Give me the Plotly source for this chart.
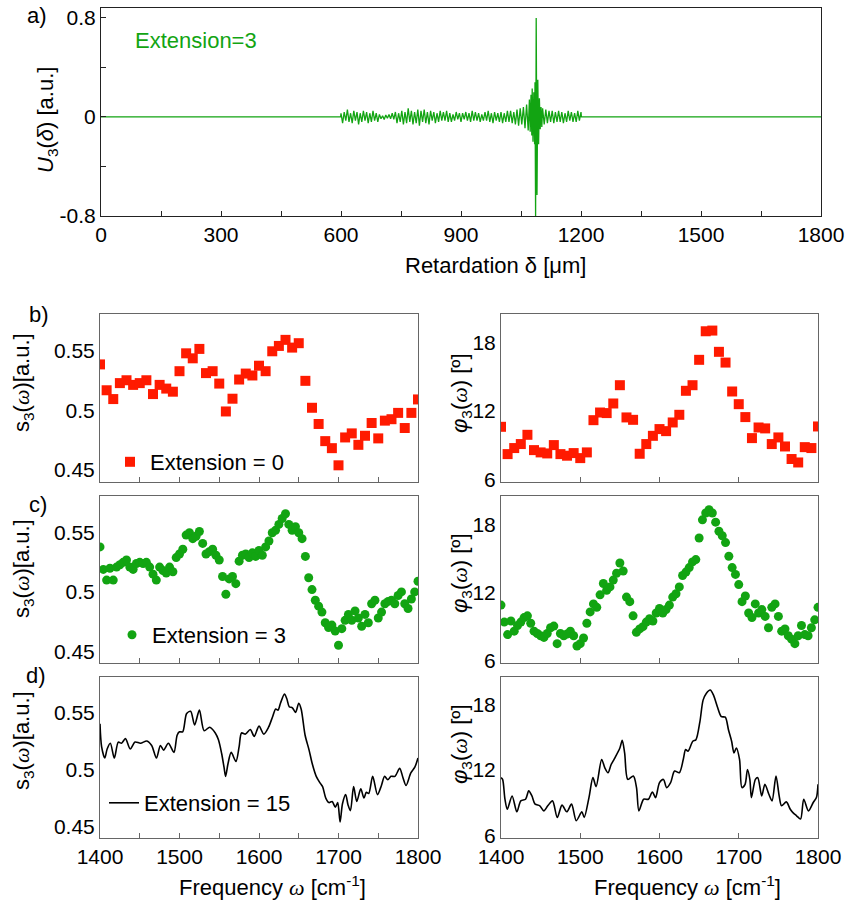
import numpy as np
import plotly.graph_objects as go

W, H = 852, 906
FONT = "Arial, Liberation Sans, sans-serif"
SERIF = "Liberation Serif"
GREEN = "#12a412"
RED = "#ff1a00"

# ---------------- a) interferogram U3(delta), extension = 3 ----------------
# sampled retardation grid of the recorded window (um)
ret_lo = np.arange(600, 1069, 4)
u3_lo = [
    0.03, -0.05, 0.04, -0.03, 0.06, -0.04, 0.03, -0.05, 0.05, -0.03,
    0.04, -0.06, 0.03, -0.04, 0.05, -0.03, 0.04, -0.05, 0.03, -0.04,
    0.05, -0.03, 0.03, -0.04, 0.02, -0.015, 0.01, -0.02, 0.015, -0.01,
    0.02, -0.015, 0.03, -0.02, 0.04, -0.05, 0.03, -0.04, 0.05, -0.06,
    0.04, -0.05, 0.07, -0.04, 0.05, -0.06, 0.04, -0.05, 0.06, -0.07,
    0.05, -0.04, 0.06, -0.05, 0.04, -0.06, 0.05, -0.03, 0.04, -0.05,
    0.03, -0.04, 0.05, -0.03, 0.04, -0.03, 0.05, -0.04, 0.03, -0.04,
    0.02, -0.03, 0.04, -0.02, 0.03, -0.04, 0.03, -0.02, 0.04, -0.03,
    0.03, -0.04, 0.05, -0.03, 0.04, -0.03, 0.03, -0.04, 0.02, -0.03,
    0.04, -0.03, 0.05, -0.04, 0.03, -0.05, 0.04, -0.03, 0.03, -0.04,
    0.04, -0.05, 0.03, -0.04, 0.05, -0.04, 0.05, -0.05, 0.04, -0.06,
    0.06, -0.07, 0.07, -0.06, 0.08, -0.09, 0.10, -0.11,
]
ret_burst = [1071, 1073, 1075, 1077, 1078, 1080, 1082, 1084, 1085, 1086.5,
             1088, 1090, 1092, 1094, 1096, 1098, 1100, 1102]
u3_burst = [0.14, -0.12, 0.18, -0.15, 0.23, -0.20, 0.20, -0.22, 0.28, -0.80,
            0.80, -0.63, 0.30, -0.22, 0.15, -0.10, 0.08, -0.08]
ret_hi = np.arange(1104, 1201, 4)
u3_hi = [
    0.07, -0.06, 0.06, -0.05, 0.05, -0.04, 0.05, -0.05, 0.04, -0.04,
    0.05, -0.04, 0.04, -0.05, 0.03, -0.04, 0.05, -0.03, 0.04, -0.04,
    0.03, -0.04, 0.05, -0.03, 0.04,
]
ret_um = np.concatenate([[0, 599], ret_lo, ret_burst, ret_hi, [1201, 1800]])
u3 = np.concatenate([[0, 0], u3_lo, u3_burst, u3_hi, [0, 0]])

# ---------------- b) extension = 0 ----------------
freq_e0 = np.linspace(1400, 1800, 49)
amp_e0 = [
    0.5387, 0.517, 0.5096, 0.523, 0.5254, 0.5215, 0.523, 0.5254, 0.5138, 0.5215,
    0.5184, 0.5158, 0.533, 0.548, 0.5438, 0.5517, 0.5314, 0.533, 0.5226, 0.4992,
    0.5099, 0.526, 0.531, 0.5294, 0.5376, 0.533, 0.5497, 0.5542, 0.5593, 0.5528,
    0.5565, 0.5249, 0.5023, 0.4887, 0.4743, 0.4684, 0.454, 0.4774, 0.4808, 0.4712,
    0.4788, 0.4895, 0.4766, 0.4915, 0.4927, 0.498, 0.4853, 0.498, 0.5093,
]
phase_e0 = [
    10.63, 8.24, 8.77, 9.12, 9.93, 8.59, 8.39, 8.30, 9.03, 8.24,
    8.10, 8.33, 7.89, 8.39, 11.21, 11.88, 11.83, 12.67, 14.27, 11.45,
    11.24, 8.27, 9.12, 9.84, 10.43, 10.25, 11.01, 11.68, 13.78, 14.27,
    16.49, 18.99, 19.05, 17.19, 16.25, 13.72, 12.61, 11.48, 9.64, 10.57,
    10.49, 9.12, 9.70, 8.91, 7.81, 7.51, 8.85, 8.77, 10.66,
]

# ---------------- c) extension = 3 ----------------
freq_e3 = np.linspace(1400, 1800, 97)
amp_e3 = [
    0.538, 0.519, 0.510, 0.520, 0.510, 0.521, 0.523, 0.525, 0.527, 0.521,
    0.519, 0.524, 0.525, 0.524, 0.525, 0.521, 0.515, 0.510, 0.521, 0.518,
    0.516, 0.521, 0.517, 0.529, 0.532, 0.536, 0.548, 0.550, 0.545, 0.547,
    0.551, 0.541, 0.532, 0.534, 0.536, 0.531, 0.527, 0.513, 0.498, 0.511,
    0.513, 0.507, 0.526, 0.531, 0.532, 0.529, 0.533, 0.530, 0.535, 0.531,
    0.538, 0.543, 0.550, 0.552, 0.557, 0.562, 0.566, 0.557, 0.552, 0.555,
    0.550, 0.545, 0.530, 0.512, 0.502, 0.493, 0.488, 0.483, 0.474, 0.470,
    0.472, 0.467, 0.455, 0.469, 0.476, 0.481, 0.476, 0.484, 0.478, 0.471,
    0.481, 0.474, 0.490, 0.493, 0.478, 0.483, 0.490, 0.492, 0.493, 0.490,
    0.497, 0.500, 0.490, 0.486, 0.494, 0.500, 0.509,
]
phase_e3 = [
    10.9, 9.4, 8.3, 9.5, 8.6, 9.1, 9.4, 9.8, 9.95, 9.3,
    8.6, 8.4, 8.2, 8.05, 8.4, 8.9, 9.05, 7.5, 8.4, 8.2,
    8.35, 8.6, 8.2, 7.3, 7.5, 8.0, 9.3, 10.3, 11.0, 10.7,
    11.8, 12.8, 12.2, 12.5, 13.1, 13.7, 14.6, 13.9, 11.6, 11.2,
    9.95, 8.5, 8.8, 9.0, 9.4, 9.7, 9.5, 10.2, 10.6, 10.2,
    10.5, 10.9, 11.6, 11.9, 12.5, 13.5, 13.8, 14.2, 14.7, 14.9,
    16.8, 18.4, 19.0, 19.3, 19.0, 18.2, 17.4, 17.0, 16.4, 15.2,
    14.2, 13.6, 12.7, 11.2, 11.7, 10.2, 9.8, 11.0, 10.2, 10.5,
    9.9, 8.9, 10.7, 11.0, 9.9, 8.6, 8.8, 8.2, 7.9, 7.5,
    8.2, 9.1, 8.3, 8.2, 8.9, 9.6, 10.7,
]

# ---------------- d) extension = 15 ----------------
freq_e15_amp = [
    1400, 1402, 1406, 1409, 1413, 1418, 1423, 1427, 1432, 1438,
    1444, 1451, 1459, 1465, 1471, 1476, 1480, 1486, 1493, 1497,
    1500, 1504, 1509, 1514, 1519, 1525, 1531, 1538, 1545, 1549,
    1553, 1556, 1558, 1561, 1565, 1571, 1575, 1578, 1583, 1589,
    1594, 1600, 1606, 1612, 1617, 1621, 1624, 1627, 1632, 1635,
    1638, 1642, 1646, 1650, 1653, 1658, 1663, 1667, 1672, 1677,
    1680, 1684, 1688, 1692, 1696, 1699, 1702, 1705, 1709, 1712,
    1715, 1719, 1723, 1728, 1732, 1735, 1738, 1743, 1749, 1754,
    1758, 1762, 1766, 1771, 1777, 1781, 1785, 1791, 1796, 1800,
]
amp_e15 = [
    0.540, 0.520, 0.510, 0.518, 0.523, 0.510, 0.524, 0.523, 0.527, 0.518,
    0.524, 0.523, 0.525, 0.521, 0.510, 0.521, 0.517, 0.523, 0.515, 0.530,
    0.533, 0.533, 0.549, 0.551, 0.539, 0.552, 0.534, 0.537, 0.532, 0.526,
    0.514, 0.502, 0.494, 0.505, 0.515, 0.507, 0.520, 0.532, 0.531, 0.535,
    0.529, 0.538, 0.531, 0.537, 0.546, 0.553, 0.552, 0.558, 0.566, 0.562,
    0.555, 0.554, 0.550, 0.558, 0.553, 0.530, 0.517, 0.505, 0.494, 0.488,
    0.485, 0.475, 0.471, 0.472, 0.467, 0.471, 0.454, 0.470, 0.478, 0.469,
    0.464, 0.485, 0.472, 0.483, 0.475, 0.480, 0.479, 0.494, 0.478, 0.486,
    0.494, 0.491, 0.494, 0.494, 0.501, 0.493, 0.486, 0.497, 0.502, 0.510,
]
freq_e15_phase = [
    1400, 1402, 1405, 1408, 1414, 1420, 1425, 1431, 1435, 1439,
    1443, 1449, 1454, 1459, 1465, 1471, 1477, 1483, 1489, 1495,
    1502, 1505, 1511, 1516, 1520, 1527, 1531, 1535, 1539, 1543,
    1550, 1553, 1556, 1560, 1567, 1571, 1574, 1580, 1586, 1591,
    1595, 1600, 1605, 1609, 1614, 1619, 1625, 1630, 1633, 1636,
    1642, 1646, 1651, 1655, 1659, 1664, 1668, 1673, 1678, 1683,
    1687, 1691, 1694, 1697, 1701, 1704, 1708, 1711, 1714, 1716,
    1721, 1724, 1729, 1733, 1738, 1742, 1747, 1751, 1754, 1760,
    1765, 1769, 1773, 1778, 1782, 1788, 1794, 1798, 1800,
]
phase_e15 = [
    11.3, 11.15, 9.34, 8.43, 9.64, 8.19, 9.19, 9.34, 10.1, 9.64,
    8.89, 8.74, 8.28, 8.74, 9.19, 7.68, 8.80, 8.19, 8.89, 7.38,
    8.19, 7.68, 9.49, 11.31, 10.49, 12.97, 12.21, 11.76, 12.51, 13.03,
    14.02, 14.72, 13.57, 11.15, 11.46, 10.40, 8.28, 9.34, 9.34, 10.0,
    9.49, 10.85, 11.15, 10.40, 10.85, 11.91, 11.76, 12.97, 13.87, 13.72,
    14.63, 14.78, 16.43, 18.39, 19.0, 19.31, 18.86, 17.79, 16.89, 16.83,
    15.69, 14.63, 13.57, 14.02, 12.97, 10.40, 10.70, 12.06, 11.15, 9.49,
    11.15, 11.31, 9.64, 10.70, 9.79, 9.19, 11.46, 9.64, 8.74, 9.10,
    8.43, 8.07, 7.83, 7.53, 9.34, 8.28, 9.04, 9.49, 10.7,
]

# ---------------- layout geometry (pixels -> paper) ----------------
def px(x):
    return x / W


def py(y):
    return 1 - y / H


left_dom = [px(100), px(418)]
right_dom = [px(501), px(818)]
row_dom = {"b": [py(482), py(314)], "c": [py(663), py(496)], "d": [py(838), py(677)]}

fig = go.Figure()

# panel a
fig.add_trace(go.Scatter(x=ret_um, y=u3, mode="lines",
                         line=dict(color=GREEN, width=1.3), showlegend=False,
                         xaxis="x", yaxis="y"))

# panels b, c, d
fig.add_trace(go.Scatter(x=freq_e0, y=amp_e0, mode="markers", name="Extension = 0",
                         marker=dict(symbol="square", size=10, color=RED),
                         xaxis="x2", yaxis="y2", legend="legend"))
fig.add_trace(go.Scatter(x=freq_e0, y=phase_e0, mode="markers", showlegend=False,
                         marker=dict(symbol="square", size=10, color=RED),
                         xaxis="x3", yaxis="y3"))
fig.add_trace(go.Scatter(x=freq_e3, y=amp_e3, mode="markers", name="Extension = 3",
                         marker=dict(symbol="circle", size=9, color=GREEN),
                         xaxis="x4", yaxis="y4", legend="legend2"))
fig.add_trace(go.Scatter(x=freq_e3, y=phase_e3, mode="markers", showlegend=False,
                         marker=dict(symbol="circle", size=9, color=GREEN),
                         xaxis="x5", yaxis="y5"))
fig.add_trace(go.Scatter(x=freq_e15_amp, y=amp_e15, mode="lines", name="Extension = 15",
                         line=dict(color="black", width=1.6, shape="spline", smoothing=0.8),
                         xaxis="x6", yaxis="y6", legend="legend3"))
fig.add_trace(go.Scatter(x=freq_e15_phase, y=phase_e15, mode="lines", showlegend=False,
                         line=dict(color="black", width=1.6, shape="spline", smoothing=0.8),
                         xaxis="x7", yaxis="y7"))

tickfont = dict(family=FONT, size=21, color="black")
frame_a = "#222222"
frame = "#666666"

layout = dict(
    width=W, height=H, margin=dict(l=0, r=0, t=0, b=0, autoexpand=False),
    paper_bgcolor="white", plot_bgcolor="white",
    font=dict(family=FONT, color="black"),
    xaxis=dict(domain=[px(101), px(821)], range=[0, 1800], anchor="y",
               tickmode="array", tickvals=list(range(0, 1801, 150)),
               ticktext=[str(v) if v % 300 == 0 else "" for v in range(0, 1801, 150)],
               ticks="inside", ticklen=5, tickcolor=frame_a,
               showline=True, linecolor=frame_a, linewidth=1, mirror=True,
               showgrid=False, zeroline=False, tickfont=tickfont),
    yaxis=dict(domain=[py(216), py(8)], range=[-0.8, 0.88], anchor="x",
               tickmode="array", tickvals=[-0.8, -0.4, 0, 0.4, 0.8],
               ticktext=["-0.8", "", "0", "", "0.8"],
               ticks="inside", ticklen=5, tickcolor=frame_a,
               showline=True, linecolor=frame_a, linewidth=1, mirror=True,
               showgrid=False, zeroline=False, tickfont=tickfont),
)

left_ticks = list(range(1400, 1801, 50))
right_ticks = list(range(1400, 1801, 100))
for i, row in enumerate(["b", "c", "d"]):
    for j, side in enumerate(["left", "right"]):
        n = 2 + 2 * i + j
        is_bottom = row == "d"
        tv = left_ticks if side == "left" else right_ticks
        tt = [str(v) if (v % 100 == 0 and is_bottom) else "" for v in tv]
        layout[f"xaxis{n}"] = dict(
            domain=left_dom if side == "left" else right_dom,
            range=[1400, 1800], anchor=f"y{n}",
            tickmode="array", tickvals=tv, ticktext=tt,
            ticks="inside", ticklen=5, tickcolor=frame,
            showline=True, linecolor=frame, linewidth=1, mirror=True,
            showgrid=False, zeroline=False, tickfont=tickfont)
        if side == "left":
            ydict = dict(range=[0.44, 0.581], tickmode="array",
                         tickvals=[0.45, 0.5, 0.55], ticktext=["0.45", "0.5", "0.55"])
        else:
            ydict = dict(range=[5.8, 20.5], tickmode="array",
                         tickvals=[6, 12, 18], ticktext=["6", "12", "18"])
        layout[f"yaxis{n}"] = dict(
            domain=row_dom[row], anchor=f"x{n}", ticks="",
            showline=True, linecolor=frame, linewidth=1, mirror=True,
            showgrid=False, zeroline=False, tickfont=tickfont, **ydict)

legend_common = dict(bgcolor="rgba(0,0,0,0)", font=dict(family=FONT, size=22, color="black"),
                     xanchor="left", yanchor="middle", itemsizing="trace")
layout["legend"] = dict(x=px(110), y=py(462), **legend_common)
layout["legend2"] = dict(x=px(112), y=py(635), **legend_common)
layout["legend3"] = dict(x=px(104), y=py(803), **legend_common)

fig.update_layout(**layout)

omega = f'<span style="font-family:{SERIF}"><i>ω</i></span>'
ann = []


def text(x, y, s, size=22, angle=0, color="black", xanchor="center"):
    ann.append(dict(x=px(x), y=py(y), xref="paper", yref="paper", text=s,
                    showarrow=False, textangle=angle, xanchor=xanchor, yanchor="middle",
                    font=dict(family=FONT, size=size, color=color)))


# panel labels
text(37, 16, "a)")
text(39, 314, "b)")
text(38, 505, "c)")
text(36, 675, "d)")

# panel a texts
text(133, 40, "Extension=3", color=GREEN, xanchor="left")
text(47, 120, "<i>U</i><sub>3</sub>(<i>δ</i>) [a.u.]", angle=-90)
text(496, 265, "Retardation δ [μm]")

# spectra axis titles
amp_title = f"s<sub>3</sub>({omega})[a.u.]"
phase_title = f"<i>φ</i><sub>3</sub>({omega}) [º]"
for yc_l, yc_r in [(383, 393), (569, 573), (741, 744)]:
    text(23, yc_l, amp_title, angle=-90)
    text(461, yc_r, phase_title, angle=-90)
text(272, 886, f"Frequency {omega} [cm<sup>-1</sup>]")
text(687, 886, f"Frequency {omega} [cm<sup>-1</sup>]")

fig.update_layout(annotations=ann)
fig.write_html("out.html")
